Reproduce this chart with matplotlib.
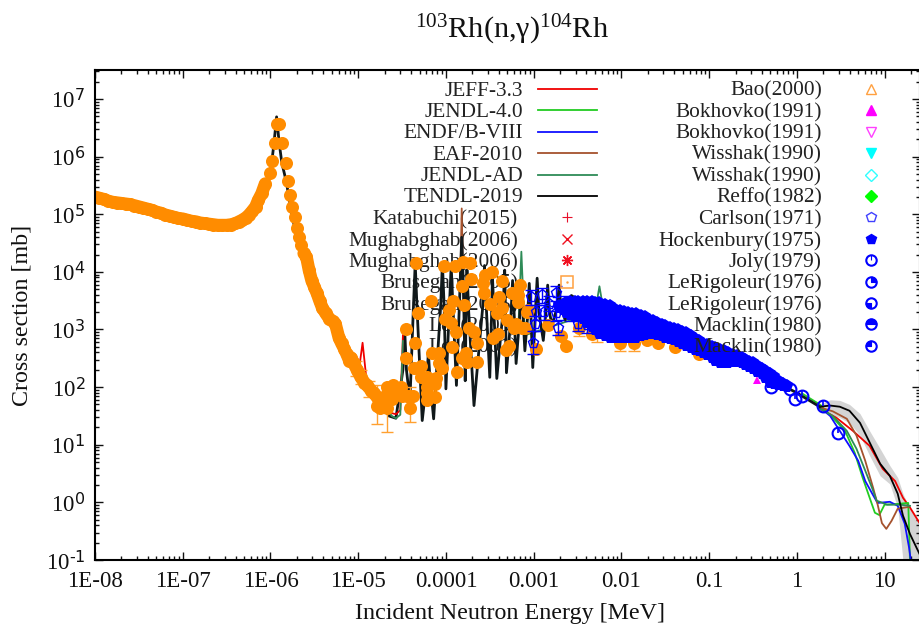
import numpy as np
import matplotlib
matplotlib.use("Agg")
import matplotlib.pyplot as plt
from matplotlib.path import Path

plt.rcParams["font.family"] = ["Liberation Serif", "DejaVu Serif"]
plt.rcParams["mathtext.default"] = "regular"

# all values below are log10(E / MeV) and log10(sigma / mb)
# resonance region, the libraries sit on top of each other here
res_log_e = [-8.0, -7.6, -7.2, -6.8, -6.6, -6.4, -6.25, -6.1, -6.0, -5.96, -5.93, -5.9, -5.87, -5.82,
             -5.75, -5.65, -5.47, -5.26, -5.1, -4.9, -4.75, -4.65, -4.57, -4.49, -4.47, -4.45, -4.41,
             -4.37, -4.35, -4.33, -4.27, -4.22, -4.2, -4.18, -4.14, -4.06, -4.04, -4.02, -4.0, -3.96,
             -3.94, -3.92, -3.88, -3.84, -3.82, -3.8, -3.78, -3.77, -3.76, -3.74, -3.68, -3.58, -3.56,
             -3.54, -3.5, -3.48, -3.47, -3.45, -3.42, -3.35, -3.33, -3.32, -3.31, -3.26, -3.24, -3.22,
             -3.2, -3.16, -3.14, -3.12, -3.1, -3.07, -3.05, -3.03, -3.01, -2.98, -2.96, -2.94, -2.89,
             -2.86, -2.84, -2.82, -2.79, -2.73, -2.71, -2.69, -2.64, -2.57, -2.3, -1.5, -1.0, -0.5, 0.0, 0.26]
res_log_s = [5.3, 5.17, 4.99, 4.85, 4.81, 4.84, 4.98, 5.36, 5.71, 6.23, 6.69, 6.23, 5.89, 5.57,
             4.94, 4.32, 3.63, 3.1, 2.46, 2.03, 1.75, 1.5, 1.46, 2.3, 3.0, 2.3, 1.77,
             3.4, 4.15, 3.4, 1.42, 2.1, 2.6, 2.1, 1.45, 3.4, 4.15, 3.4, 1.97, 3.4,
             4.11, 3.4, 2.03, 3.7, 4.6, 3.7, 2.11, 3.3, 4.03, 3.3, 1.68, 3.4, 4.11,
             3.4, 2.17, 3.2, 3.94, 3.2, 2.15, 3.3, 4.03, 3.3, 2.25, 3.2, 3.85, 3.2,
             2.41, 3.2, 3.77, 3.2, 2.63, 3.2, 3.8, 3.2, 2.34, 3.3, 3.89, 3.3, 2.81,
             3.3, 3.77, 3.3, 3.07, 3.4, 3.77, 3.4, 3.16, 3.59, 3.3, 3.0, 2.65, 2.3, 1.9, 1.66]

# libraries above 1 MeV
jeff_log_e = [0.26, 0.45, 0.64, 0.83, 0.98, 1.12, 1.21, 1.29, 1.40]
jeff_log_s = [1.63, 1.47, 1.24, 0.98, 0.58, 0.37, 0.08, -0.09, -0.36]
jeff_spike_log_e = [-5.0, -4.95, -4.9]
jeff_spike_log_s = [2.2, 2.77, 2.05]
jeff_dip_log_e = [-4.68, -4.62, -4.57, -4.52, -4.49]
jeff_dip_log_s = [1.75, 1.55, 1.53, 1.6, 2.9]

jendl4_log_e = [0.06, 0.26, 0.41, 0.55, 0.66, 0.75, 0.83, 0.89, 0.94, 1.0, 1.12, 1.27, 1.28, 1.29]
jendl4_log_s = [1.89, 1.7, 1.47, 1.24, 0.86, 0.43, 0.08, -0.18, -0.22, -0.04, -0.03, -0.01, -0.5, -1.02]

endf_log_e = [0.26, 0.38, 0.49, 0.6, 0.7, 0.78, 0.86, 0.92, 1.06, 1.15, 1.23, 1.28, 1.3]
endf_log_s = [1.65, 1.5, 1.24, 0.98, 0.72, 0.37, 0.15, -0.01, 0.01, -0.06, -0.37, -0.79, -1.02]

eaf_log_e = [0.26, 0.41, 0.57, 0.68, 0.78, 0.87, 0.92, 0.97, 1.02, 1.08, 1.15, 1.27]
eaf_log_s = [1.65, 1.58, 1.45, 1.16, 0.72, 0.25, -0.03, -0.36, -0.46, -0.32, -0.11, -0.08]
eaf_spike_log_e = [-3.84, -3.82, -3.8]
eaf_spike_log_s = [3.5, 5.1, 3.5]

jendlad_log_e = [0.26, 0.41, 0.57, 0.68, 0.78, 0.86, 0.91, 1.03, 1.18, 1.29]
jendlad_log_s = [1.63, 1.5, 1.24, 0.93, 0.55, 0.24, 0.03, -0.04, -0.04, -0.06]
jendlad_spike_log_e = [-3.18, -3.14, -3.1, -2.3, -2.25, -2.2]
jendlad_spike_log_s = [2.8, 4.35, 2.9, 3.3, 3.75, 3.3]
jendlad_dip_log_e = [-4.68, -4.62, -4.57, -4.52, -4.49]
jendlad_dip_log_s = [1.7, 1.5, 1.46, 1.52, 2.8]

tendl_log_e = [0.26, 0.38, 0.49, 0.6, 0.72, 0.83, 0.95, 1.06, 1.15, 1.21, 1.29, 1.4]
tendl_log_s = [1.66, 1.68, 1.66, 1.59, 1.38, 1.04, 0.67, 0.46, 0.15, -0.23, -0.55, -0.9]
tendl_upper = [1.7, 1.78, 1.77, 1.7, 1.54, 1.24, 0.93, 0.64, 0.43, 0.15, -0.11, -0.37]
tendl_lower = [1.56, 1.54, 1.47, 1.38, 1.16, 0.81, 0.46, 0.32, -0.09, -1.02, -1.02, -1.02]

# big orange points
orange_log_e = [-8.0, -7.95, -7.9, -7.85, -7.8, -7.75, -7.7, -7.65, -7.6, -7.55, -7.5, -7.45, -7.4, -7.35,
                -7.3, -7.25, -7.2, -7.15, -7.1, -7.05, -7.0, -6.95, -6.9, -6.85, -6.8, -6.75, -6.7, -6.65,
                -6.6, -6.55, -6.5, -6.45, -6.4, -6.36, -6.32, -6.28, -6.25, -6.21, -6.17, -6.14, -6.1, -6.06,
                -6.0, -5.98, -5.95, -5.92, -5.9, -5.87, -5.82, -5.8, -5.78, -5.75, -5.72, -5.7, -5.67, -5.65,
                -5.62, -5.59, -5.56, -5.53, -5.5, -5.47, -5.44, -5.41, -5.37, -5.33, -5.29, -5.26, -5.22, -5.19,
                -5.16, -5.13, -5.1, -5.08, -5.05, -5.01, -4.97, -4.93, -4.9, -4.85, -4.82, -4.78, -4.74, -4.7,
                -4.75, -4.67, -4.7, -4.62, -4.6, -4.59, -4.53, -4.5, -4.44, -4.38, -4.41, -4.51, -4.67, -4.78,
                -4.34, -4.02, -3.9, -3.81, -3.72, -3.48, -3.56, -3.71, -3.82, -3.36, -3.15, -3.58, -3.57, -3.39,
                -3.25, -3.18, -4.17, -3.92, -3.79, -3.5, -3.36, -3.42, -4.32, -3.96, -4.01, -3.94, -3.3, -3.2,
                -3.08, -3.13, -4.46, -3.74, -3.88, -3.68, -3.41, -3.46, -4.35, -3.65, -3.93, -3.28, -3.32, -4.16,
                -4.08, -3.77, -4.45, -3.82, -4.08, -4.28, -4.36, -3.65, -3.76, -4.05, -3.87, -4.28, -4.21, -4.11,
                -4.22, -4.13, -4.21, -4.13, -4.21, -4.42, -3.18, -3.22, -3.1, -3.07, -2.63, -2.69, -2.84, -2.97,
                -2.48, -2.28, -2.33, -2.02, -1.86, -1.71, -1.58, -1.39, -1.11]
orange_log_s = [5.3, 5.28, 5.26, 5.23, 5.21, 5.2, 5.19, 5.18, 5.17, 5.15, 5.13, 5.11, 5.09, 5.07,
                5.04, 5.02, 4.99, 4.97, 4.95, 4.93, 4.92, 4.9, 4.88, 4.87, 4.85, 4.84, 4.83, 4.82,
                4.81, 4.81, 4.81, 4.82, 4.84, 4.87, 4.9, 4.94, 4.98, 5.05, 5.13, 5.24, 5.36, 5.53,
                5.71, 5.93, 6.23, 6.57, 6.57, 6.24, 5.89, 5.57, 5.33, 5.12, 4.95, 4.76, 4.6, 4.46,
                4.32, 4.26, 4.03, 3.85, 3.74, 3.63, 3.5, 3.38, 3.28, 3.19, 3.14, 3.1, 2.86, 2.76,
                2.67, 2.57, 2.46, 2.51, 2.41, 2.29, 2.17, 2.08, 2.03, 1.94, 1.89, 1.82, 1.77, 1.71,
                1.64, 1.63, 1.85, 1.8, 2.03, 1.89, 1.94, 1.85, 1.85, 1.85, 1.63, 2.0, 2.0, 1.68,
                4.15, 4.1, 4.11, 4.17, 4.15, 4.0, 3.94, 3.87, 3.75, 3.85, 3.78, 3.8, 3.63, 3.57,
                3.63, 3.59, 3.5, 3.5, 3.43, 3.45, 3.38, 3.28, 3.28, 3.33, 3.19, 3.12, 3.16, 3.1,
                3.3, 3.03, 3.0, 3.02, 2.95, 2.95, 2.93, 2.86, 2.77, 2.76, 2.69, 2.72, 2.65, 2.6,
                2.6, 2.6, 2.51, 2.5, 2.41, 2.37, 2.34, 2.43, 2.43, 2.34, 2.27, 2.18, 2.18, 2.15,
                2.0, 2.06, 1.9, 1.82, 1.77, 1.85, 3.47, 3.03, 3.03, 3.33, 2.72, 2.88, 3.07, 2.67,
                3.02, 3.03, 2.93, 2.77, 2.77, 2.81, 2.77, 2.69, 2.58]

orange_err_log_e = [-5.02, -4.97, -4.88, -4.78, -4.67, -4.41, -2.48, -2.28, -2.02, -1.86]
orange_err_log_s = [2.33, 2.17, 1.97, 1.68, 1.63, 1.63, 3.02, 2.93, 2.77, 2.77]
orange_err_low = [2.2, 2.05, 1.82, 1.36, 1.22, 1.39, 2.88, 2.78, 2.62, 2.62]
orange_err_high = [2.45, 2.3, 2.1, 2.03, 2.03, 2.0, 3.15, 3.1, 2.9, 2.9]

# open blue pentagons, with error bars
carlson_log_e = [-3.03, -2.9, -2.74, -2.97, -2.88, -2.74, -2.99, -2.72, -3.01, -2.5, -2.39, -2.57, -2.82, -2.65]
carlson_log_s = [3.56, 3.59, 3.63, 3.3, 3.3, 3.28, 3.1, 3.03, 2.77, 3.1, 3.07, 3.28, 3.45, 3.45]
carlson_log_err = [0.13, 0.13, 0.13, 0.13, 0.13, 0.13, 0.13, 0.13, 0.2, 0.13, 0.13, 0.13, 0.13, 0.13]

# dense Hockenbury points, the band between upper and lower track
hock_log_e = [-2.71, -2.67, -2.63, -2.58, -2.53, -2.49, -2.44, -2.39, -2.34, -2.3, -2.25, -2.19, -2.13, -2.08, -2.02,
              -1.97, -1.92, -1.88, -1.83, -1.78, -1.73, -1.69, -1.64, -1.59, -1.54, -1.5, -1.45, -1.4, -1.35, -1.31,
              -1.26, -1.21, -1.16, -1.12, -1.07, -1.02, -0.97, -0.93, -0.88, -0.83, -0.78, -0.73, -0.68, -0.63, -0.59,
              -0.55, -0.5, -0.45, -0.4, -0.36, -0.31, -0.26, -0.21, -0.16, -0.11]
hock_upper = [3.42, 3.45, 3.47, 3.49, 3.5, 3.5, 3.5, 3.5, 3.49, 3.48, 3.47, 3.45, 3.42, 3.38, 3.33,
              3.32, 3.31, 3.29, 3.28, 3.25, 3.23, 3.19, 3.16, 3.13, 3.1, 3.07, 3.04, 3.02, 3.0, 2.97,
              2.95, 2.9, 2.85, 2.81, 2.77, 2.74, 2.72, 2.69, 2.67, 2.64, 2.61, 2.58, 2.55, 2.52, 2.49,
              2.46, 2.43, 2.38, 2.33, 2.29, 2.24, 2.19, 2.13, 2.08, 2.03]
hock_lower = [3.38, 3.33, 3.28, 3.26, 3.24, 3.21, 3.19, 3.12, 3.05, 2.99, 2.93, 2.89, 2.86, 2.86, 2.86,
              2.86, 2.86, 2.86, 2.86, 2.88, 2.9, 2.92, 2.93, 2.91, 2.89, 2.86, 2.84, 2.81, 2.78, 2.75,
              2.72, 2.68, 2.65, 2.62, 2.6, 2.55, 2.5, 2.46, 2.41, 2.42, 2.42, 2.43, 2.43, 2.41, 2.39,
              2.35, 2.32, 2.27, 2.22, 2.16, 2.08, 2.05, 2.03, 2.02, 2.0]

circle_log_e = [-0.3, -0.08, -0.02, 0.06, 0.3, 0.47]
circle_log_s = [2.01, 1.97, 1.8, 1.85, 1.68, 1.21]
bokhovko_log_e = [-0.45]
bokhovko_log_s = [2.13]

x_tick_log = [-8, -7, -6, -5, -4, -3, -2, -1, 0, 1]
x_tick_labels = ["1E-08", "1E-07", "1E-06", "1E-05", "0.0001", "0.001", "0.01", "0.1", "1", "10"]
y_tick_log = [-1, 0, 1, 2, 3, 4, 5, 6, 7]

lib_labels = ["JEFF-3.3", "JENDL-4.0", "ENDF/B-VIII", "EAF-2010", "JENDL-AD", "TENDL-2019"]
lib_colors = ["#f00000", "#22cc22", "#1010ff", "#a5522d", "#2e8b57", "#000000"]
# last two of this column are nearly hidden under the data, names are a guess
left_labels = ["Katabuchi(2015)", "Mughabghab(2006)", "Mughabghab(2006)", "Brusegan(2005)", "Brusegan(2005)", "Lee(2003)", "Lee(2001)"]
right_labels = ["Bao(2000)", "Bokhovko(1991)", "Bokhovko(1991)", "Wisshak(1990)", "Wisshak(1990)", "Reffo(1982)", "Carlson(1971)",
                "Hockenbury(1975)", "Joly(1979)", "LeRigoleur(1976)", "LeRigoleur(1976)", "Macklin(1980)", "Macklin(1980)"]


def log_arr(values):
    return 10.0 ** np.array(values)


fig = plt.figure(figsize=(9.2, 6.33), dpi=100)
ax = fig.add_axes([95 / 920, 1 - 560 / 633, 825 / 920, 490 / 633])
ax.set_xscale("log")
ax.set_yscale("log")
ax.set_xlim(1e-8, 10 ** 1.404)
ax.set_ylim(1e-1, 10 ** 7.503)

ax.fill_between(log_arr(tendl_log_e), log_arr(tendl_lower), log_arr(tendl_upper), color="#d4d4d4", lw=0, zorder=1.2)

all_e = [jeff_log_e, jendl4_log_e, endf_log_e, eaf_log_e, jendlad_log_e, tendl_log_e]
all_s = [jeff_log_s, jendl4_log_s, endf_log_s, eaf_log_s, jendlad_log_s, tendl_log_s]
for e, s, color in zip(all_e, all_s, lib_colors):
    ax.plot(log_arr(e), log_arr(s), color=color, lw=1.3, zorder=2)

ax.plot(log_arr(jeff_spike_log_e), log_arr(jeff_spike_log_s), color=lib_colors[0], lw=1.3, zorder=2)
ax.plot(log_arr(jendlad_spike_log_e), log_arr(jendlad_spike_log_s), color=lib_colors[4], lw=1.3, zorder=2)
ax.plot(log_arr(eaf_spike_log_e), log_arr(eaf_spike_log_s), color=lib_colors[3], lw=1.3, zorder=2)
ax.plot(log_arr(res_log_e), log_arr(res_log_s), color="#10181a", lw=2, zorder=2.1)
ax.plot(log_arr(jeff_dip_log_e), log_arr(jeff_dip_log_s), color=lib_colors[0], lw=1.3, zorder=2.2)
ax.plot(log_arr(jendlad_dip_log_e), log_arr(jendlad_dip_log_s), color=lib_colors[4], lw=1.3, zorder=2.2)

orange = "#ff8c00"
err_s = log_arr(orange_err_log_s)
ax.errorbar(log_arr(orange_err_log_e), err_s,
            yerr=[err_s - log_arr(orange_err_low), log_arr(orange_err_high) - err_s],
            fmt="none", ecolor="#ffa030", elinewidth=1, capsize=4.5, capthick=1, zorder=2.9)
# the dense stretches run together into a solid stroke
ax.plot(log_arr(orange_log_e[:42]), log_arr(orange_log_s[:42]), color=orange, lw=9.2, solid_capstyle="round", zorder=3)
ax.plot(log_arr(orange_log_e[56:84]), log_arr(orange_log_s[56:84]), color=orange, lw=9.2, solid_capstyle="round", zorder=3)
ax.plot(log_arr(orange_log_e), log_arr(orange_log_s), "o", color=orange, ms=9.4, mew=0, zorder=3)

blue = "#0000ff"
carl_s = log_arr(carlson_log_s)
carl_err = np.array(carlson_log_err)
ax.errorbar(log_arr(carlson_log_e), carl_s,
            yerr=[carl_s - 10.0 ** (np.array(carlson_log_s) - carl_err), 10.0 ** (np.array(carlson_log_s) + carl_err) - carl_s],
            fmt="p", mfc="none", mec=blue, ecolor=blue, ms=8, mew=1, elinewidth=1, capsize=4, capthick=1, zorder=4)

ax.fill_between(log_arr(hock_log_e), log_arr(hock_lower), log_arr(hock_upper), color=blue, lw=0, zorder=5)
ax.plot(log_arr(hock_log_e), log_arr(hock_upper), "p", color=blue, ms=8.5, mew=0, zorder=5)
ax.plot(log_arr(hock_log_e), log_arr(hock_lower), "p", color=blue, ms=8.5, mew=0, zorder=5)
ax.plot(log_arr(bokhovko_log_e), log_arr(bokhovko_log_s), "^", color="#ff00ff", ms=6, mew=0, zorder=4.5)

ax.plot(log_arr(circle_log_e), log_arr(circle_log_s), "o", mfc="none", mec=blue, ms=8.5, mew=1.5, zorder=7)
ax.plot(log_arr(circle_log_e), log_arr(circle_log_s), marker=Path([(0, 0), (0, 1)]), ls="none", mec=blue, mfc="none", ms=8.5, mew=1.2, zorder=7)

ax.set_xticks(log_arr(x_tick_log))
ax.set_xticklabels(x_tick_labels)
ax.set_yticks(log_arr(y_tick_log))
ax.set_yticklabels(["$10^{\\text{%d}}$" % v for v in y_tick_log])
ax.xaxis.set_minor_locator(matplotlib.ticker.LogLocator(base=10, subs=np.arange(2, 10), numticks=30))
ax.yaxis.set_minor_locator(matplotlib.ticker.LogLocator(base=10, subs=np.arange(2, 10), numticks=30))
ax.xaxis.set_minor_formatter(matplotlib.ticker.NullFormatter())
ax.yaxis.set_minor_formatter(matplotlib.ticker.NullFormatter())
ax.tick_params(which="major", direction="in", top=True, right=True, length=6, width=1, labelsize=16.5, colors="#111111")
ax.tick_params(which="minor", direction="in", top=True, right=True, length=3, width=1, colors="#111111")
ax.tick_params(axis="x", which="major", pad=8)
ax.tick_params(axis="y", which="major", pad=7)
for spine in ax.spines.values():
    spine.set_linewidth(1.5)
    spine.set_zorder(10)

fig.text(512 / 920, 1 - 30 / 633, r"$^{103}$Rh(n,γ)$^{104}$Rh", fontsize=21.8, ha="center", va="center", color="#111111")
fig.text(510 / 920, 1 - 613 / 633, "Incident Neutron Energy [MeV]", fontsize=17.3, ha="center", va="center", color="#111111")
fig.text(22 / 920, 1 - 315 / 633, "Cross section [mb]", fontsize=17.3, rotation=90, ha="center", va="center", color="#111111")

# the key is laid out by hand in figure pixels, gnuplot style
tf = fig.transFigure


def fx(px):
    return px / 920


def fy(px):
    return 1 - px / 633


row_h = 21.4
row0 = 89
font_key = 15.4
text_shift = 2
for i, (label, color) in enumerate(zip(lib_labels, lib_colors)):
    y = row0 + i * row_h
    ax.text(fx(523), fy(y + text_shift), label, transform=tf, ha="right", va="center", fontsize=font_key, color="#222222", zorder=1)
    ax.plot([fx(538), fx(597)], [fy(y), fy(y)], transform=tf, color=color, lw=1.3, zorder=6, clip_on=False)

for i, label in enumerate(left_labels):
    y = row0 + (i + 6) * row_h
    ax.text(fx(518), fy(y + text_shift), label, transform=tf, ha="right", va="center", fontsize=font_key, color="#222222", zorder=1)

ax.plot(fx(567), fy(row0 + 6 * row_h), "+", transform=tf, color="#e8102a", ms=7, mew=0.8, zorder=6)
ax.plot(fx(567), fy(row0 + 7 * row_h), "x", transform=tf, color="#f01020", ms=7, mew=1, zorder=6)
ax.plot(fx(567), fy(row0 + 8 * row_h), marker=(8, 2, 0), transform=tf, color="#f01020", ms=8, mew=1, zorder=6)
ax.plot(fx(567), fy(row0 + 9 * row_h), "s", transform=tf, mfc="none", mec="#ffa040", ms=8, mew=1.1, zorder=6)
ax.plot(fx(567), fy(row0 + 9 * row_h), ".", transform=tf, color="#ffa040", ms=1.5, zorder=6)

for i, label in enumerate(right_labels):
    y = row0 + i * row_h
    ax.text(fx(822), fy(y + text_shift), label, transform=tf, ha="right", va="center", fontsize=font_key, color="#222222", zorder=8)

key_x = fx(871)
key_markers = [
    ("^", "none", "#ffa040"), ("^", "#ff00ff", "#ff00ff"), ("v", "none", "#ff40ff"), ("v", "#00ffff", "#00ffff"),
    ("D", "none", "#30ffff"), ("D", "#00ff00", "#00ff00"), ("p", "none", "#4040ff"), ("p", blue, blue),
]
for i, (marker, face, edge) in enumerate(key_markers):
    ms = 6 if marker == "D" else 7.5
    ax.plot(key_x, fy(row0 + i * row_h), marker=marker, transform=tf, mfc=face, mec=edge, ms=ms, mew=1, zorder=8, clip_on=False)

key_wedges = [Path([(0, 0), (0, 1)]), Path.wedge(0, 90), Path.wedge(180, 270), Path.wedge(0, 180), Path.wedge(90, 180)]
for i, wedge in enumerate(key_wedges):
    y = fy(row0 + (i + 8) * row_h)
    ax.plot(key_x, y, "o", transform=tf, mfc="none", mec=blue, ms=7.5, mew=1.5, zorder=8, clip_on=False)
    ax.plot(key_x, y, marker=wedge, transform=tf, mfc=blue, mec=blue, ms=7.5, mew=0.8, zorder=8, clip_on=False)

fig.savefig("out.png", dpi=100)
